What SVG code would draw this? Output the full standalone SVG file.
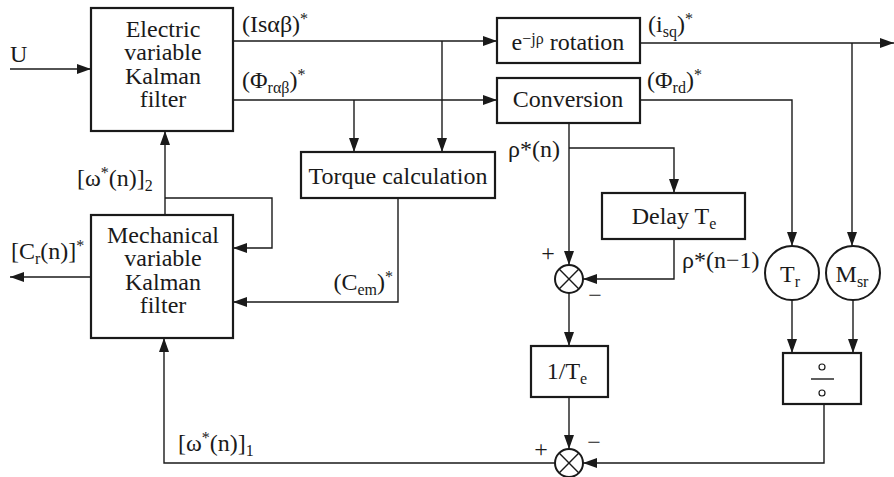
<svg xmlns="http://www.w3.org/2000/svg" width="894" height="477" viewBox="0 0 894 477" font-family="'Liberation Serif', 'DejaVu Serif', serif">
<defs>
<marker id="ah" markerUnits="userSpaceOnUse" markerWidth="14" markerHeight="10" refX="14" refY="5" orient="auto">
<path d="M0,0 L14,5 L0,10 z" fill="#1a1a1a"/>
</marker>
<style>
.box{fill:#fff;stroke:#1a1a1a;stroke-width:2.2}
.ln{fill:none;stroke:#1a1a1a;stroke-width:1.4}
.arr{fill:none;stroke:#1a1a1a;stroke-width:1.4;marker-end:url(#ah)}
text{font-family:'Liberation Serif','DejaVu Serif',serif;font-size:24px;fill:#1a1a1a}
.c{text-anchor:middle}
.sub{font-size:16px}
</style>
</defs>
<rect width="894" height="477" fill="#fff"/>

<g id="connectors">
<path class="arr" d="M10,69 H91"/>
<path class="arr" d="M233,41 H497"/>
<path class="arr" d="M233,100 H497"/>
<path class="arr" d="M354,100 V152"/>
<path class="arr" d="M442,41 V152"/>
<path class="arr" d="M165,215 V131"/>
<path class="arr" d="M165,198 H272 V248 H233"/>
<path class="arr" d="M91,277 H10"/>
<path class="arr" d="M398,198 V302 H233"/>
<path class="arr" d="M640,43 H894"/>
<path class="arr" d="M852,43 V246"/>
<path class="arr" d="M640,100 H792 V246"/>
<path class="arr" d="M569,123 V265"/>
<path class="arr" d="M569,148 H674 V193"/>
<path class="arr" d="M674,239 V279 H583"/>
<path class="arr" d="M569,293 V346"/>
<path class="arr" d="M569,397 V449"/>
<path class="arr" d="M792,300 V353"/>
<path class="arr" d="M853,300 V353"/>
<path class="arr" d="M824,404 V463 H583"/>
<path class="arr" d="M555,463 H164 V338"/>
</g>

<g id="electric-kf">
<rect class="box" x="91" y="8" width="142" height="123"/>
<text class="c" x="163" y="37">Electric</text>
<text class="c" x="163" y="60">variable</text>
<text class="c" x="163" y="84">Kalman</text>
<text class="c" x="163" y="107">filter</text>
</g>

<g id="mechanical-kf">
<rect class="box" x="91" y="215" width="142" height="123"/>
<text class="c" x="163" y="243">Mechanical</text>
<text class="c" x="163" y="266">variable</text>
<text class="c" x="163" y="290">Kalman</text>
<text class="c" x="163" y="313">filter</text>
</g>

<g id="torque">
<rect class="box" x="301" y="152" width="194" height="46"/>
<text class="c" x="398" y="184">Torque calculation</text>
</g>

<g id="rotation">
<rect class="box" x="497" y="18" width="143" height="45"/>
<text class="c" x="568" y="50">e<tspan class="sub" dy="-6">−jρ</tspan><tspan dy="6"> rotation</tspan></text>
</g>

<g id="conversion">
<rect class="box" x="497" y="78" width="143" height="45"/>
<text class="c" x="568" y="107">Conversion</text>
</g>

<g id="delay">
<rect class="box" x="602" y="193" width="143" height="46"/>
<text class="c" x="674" y="224">Delay T<tspan class="sub" dy="5">e</tspan></text>
</g>

<g id="sum1">
<circle cx="569" cy="279" r="14" fill="#fff" stroke="#1a1a1a" stroke-width="2"/>
<path class="ln" stroke-width="1.6" d="M559.1,269.1 L578.9,288.9 M578.9,269.1 L559.1,288.9"/>
<text class="c" x="548" y="261">+</text>
<text class="c" x="595" y="303">−</text>
</g>

<g id="inv-te">
<rect class="box" x="531" y="346" width="77" height="51"/>
<text class="c" x="567" y="379">1/T<tspan class="sub" dy="5">e</tspan></text>
</g>

<g id="sum2">
<circle cx="569" cy="463" r="14" fill="#fff" stroke="#1a1a1a" stroke-width="2"/>
<path class="ln" stroke-width="1.6" d="M559.1,453.1 L578.9,472.9 M578.9,453.1 L559.1,472.9"/>
<text class="c" x="541" y="457">+</text>
<text class="c" x="594" y="450">−</text>
</g>

<g id="tr">
<circle cx="792" cy="273" r="27" fill="#fff" stroke="#1a1a1a" stroke-width="2"/>
<text class="c" x="790" y="282">T<tspan class="sub" dy="5">r</tspan></text>
</g>

<g id="msr">
<circle cx="853" cy="273" r="27" fill="#fff" stroke="#1a1a1a" stroke-width="2"/>
<text class="c" x="852" y="282">M<tspan class="sub" dy="5">sr</tspan></text>
</g>

<g id="divide">
<rect class="box" x="783" y="353" width="78" height="51"/>
<circle cx="822" cy="367" r="3" fill="none" stroke="#1a1a1a" stroke-width="1.2"/>
<path class="ln" d="M811,379 H834"/>
<circle cx="822" cy="393" r="3" fill="none" stroke="#1a1a1a" stroke-width="1.2"/>
</g>

<g id="labels">
<text x="10" y="62">U</text>
<text x="242" y="32">(Isαβ)<tspan class="sub" dy="-8">*</tspan></text>
<text x="242" y="88">(Φ<tspan class="sub" dy="5">rαβ</tspan><tspan dy="-5">)</tspan><tspan class="sub" dy="-8">*</tspan></text>
<text x="648" y="32">(i<tspan class="sub" dy="5">sq</tspan><tspan dy="-5">)</tspan><tspan class="sub" dy="-8">*</tspan></text>
<text x="647" y="88">(Φ<tspan class="sub" dy="5">rd</tspan><tspan dy="-5">)</tspan><tspan class="sub" dy="-8">*</tspan></text>
<text x="508" y="157">ρ*(n)</text>
<text x="682" y="268">ρ*(n−1)</text>
<text x="77" y="186">[ω<tspan class="sub" dy="-8">*</tspan><tspan dy="8">(n)]</tspan><tspan class="sub" dy="5">2</tspan></text>
<text x="178" y="451">[ω<tspan class="sub" dy="-8">*</tspan><tspan dy="8">(n)]</tspan><tspan class="sub" dy="5">1</tspan></text>
<text x="11" y="259">[C<tspan class="sub" dy="5">r</tspan><tspan dy="-5">(n)]</tspan><tspan class="sub" dy="-8">*</tspan></text>
<text x="393" y="290" text-anchor="end">(C<tspan class="sub" dy="5">em</tspan><tspan dy="-5">)</tspan><tspan class="sub" dy="-8">*</tspan></text>
</g>
</svg>
